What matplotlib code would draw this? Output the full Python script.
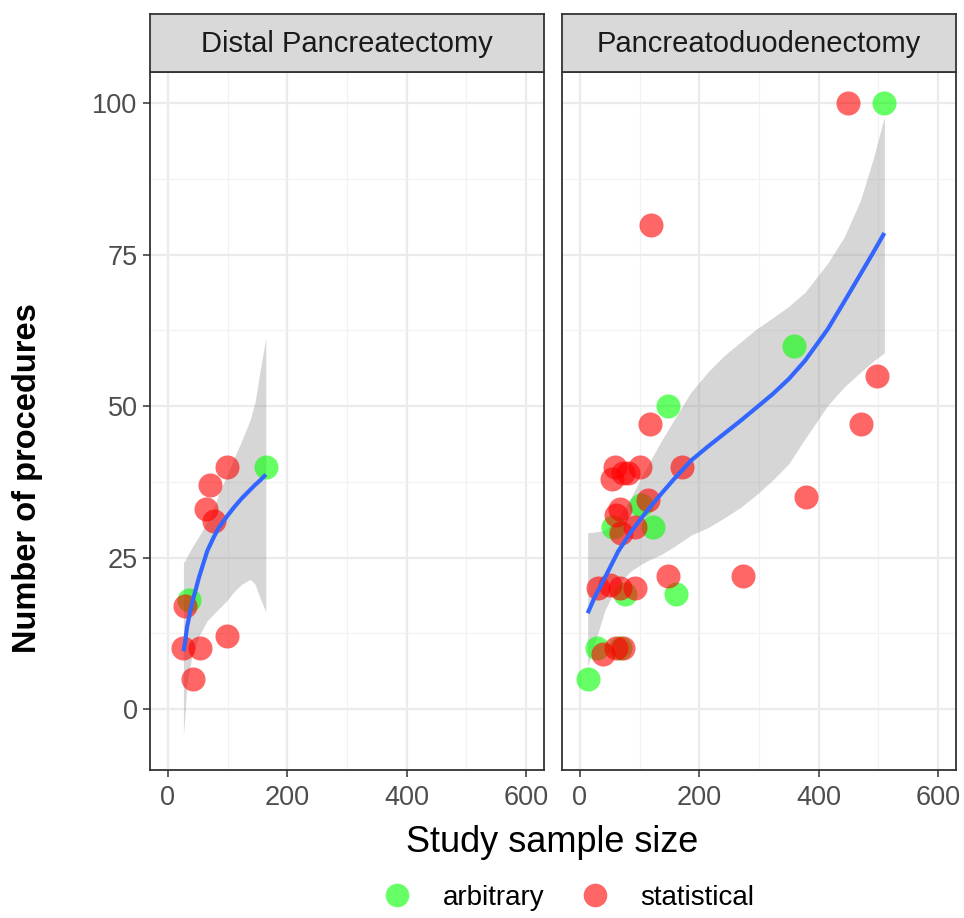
import numpy as np
import matplotlib.pyplot as plt
from matplotlib.lines import Line2D

plt.rcParams['font.family'] = ['Liberation Sans', 'DejaVu Sans']

# Distal Pancreatectomy
dp_arb_x = [164, 35]
dp_arb_y = [40, 18]
dp_stat_x = [99, 70, 63, 77, 29, 99, 26, 54, 42]
dp_stat_y = [40, 37, 33, 31, 17, 12, 10, 10, 5]
dp_smooth_x = [26, 29.5, 32, 40, 52, 66, 77, 85, 99, 110, 124, 138, 146, 154, 164]
dp_smooth_fit = [9.5, 11.5, 13.5, 17.3, 21.7, 26.1, 28.4, 29.9, 31.8, 33.2, 34.8, 36.2, 37, 37.7, 38.7]
dp_smooth_lo = [-4.5, 0.5, 4.2, 8.6, 12, 14.6, 15.7, 16.5, 17.9, 19.3, 20.6, 21.4, 20.6, 18.4, 16]
dp_smooth_hi = [24.2, 24.6, 25.2, 26.6, 28.5, 31, 33.2, 35.5, 38.6, 41.2, 44.4, 47.8, 50.7, 55.6, 61.3]

# Pancreatoduodenectomy
pd_arb_x = [510, 358, 148, 103, 56, 122, 75, 161, 28, 67, 13]
pd_arb_y = [100, 60, 50, 33.6, 30, 30, 19, 19, 10, 10, 5]
pd_stat_x = [449, 119, 498, 471, 118, 171, 58, 72, 100, 53, 81, 378, 114, 67, 61,
             69, 92, 31, 50, 67, 92, 148, 274, 39, 61, 72]
pd_stat_y = [100, 80, 55, 47, 47, 40, 40, 39, 40, 38, 39, 35, 34.5, 33, 32,
             29, 30, 20, 20.5, 20, 20, 22, 22, 9, 10, 10]
pd_smooth_x = [13, 25, 42, 64, 86, 103, 114, 136, 158, 186, 214, 241, 268, 295, 323,
               350, 377, 415, 443, 470, 492, 510]
pd_smooth_fit = [15.8, 18.5, 21.7, 26, 29.3, 31.5, 32.9, 35.5, 38, 41, 43.3, 45.4, 47.5, 49.7, 52,
                 54.5, 57.5, 62.7, 67.3, 71.8, 75.5, 78.6]
pd_smooth_lo = [7, 10.9, 16.3, 20.7, 22.8, 23.9, 24.5, 25.5, 26.8, 28.7, 29.9, 31.5, 33.2, 35.3, 37.8,
                40.5, 44.6, 50.1, 53.2, 55.6, 57.5, 58.8]
pd_smooth_hi = [29.1, 29.2, 29.5, 31.5, 35, 38.3, 40.3, 44.2, 47.8, 52.3, 55.6, 58.3, 60.5, 62.7, 64.6,
                66.5, 68.8, 73.6, 78, 84, 91.1, 97.8]

facets = ['Distal Pancreatectomy', 'Pancreatoduodenectomy']
x_ticks = [0, 200, 400, 600]
y_ticks = [0, 25, 50, 75, 100]

green = '#00FF00'
red = '#FF0000'
border = '#333333'

fig = plt.figure(figsize=(9.64, 9.18), dpi=100)

panels = [
    (dp_arb_x, dp_arb_y, dp_stat_x, dp_stat_y, dp_smooth_x, dp_smooth_fit, dp_smooth_lo, dp_smooth_hi),
    (pd_arb_x, pd_arb_y, pd_stat_x, pd_stat_y, pd_smooth_x, pd_smooth_fit, pd_smooth_lo, pd_smooth_hi),
]
lefts = [150 / 964, 562 / 964]
width = 394 / 964
bottom = 1 - 770 / 918
height = 698 / 918
strip_h = 58 / 918

for i, (ax_, ay_, sx_, sy_, mx, mfit, mlo, mhi) in enumerate(panels):
    ax = fig.add_axes([lefts[i], bottom, width, height])
    ax.set_xlim(-30, 630)
    ax.set_ylim(-10.1, 105.2)
    ax.set_xticks(x_ticks)
    ax.set_xticks([100, 300, 500], minor=True)
    ax.set_yticks(y_ticks)
    ax.set_yticks([12.5, 37.5, 62.5, 87.5], minor=True)
    ax.grid(which='major', color='#EBEBEB', linewidth=1.6)
    ax.grid(which='minor', color='#F2F2F2', linewidth=0.9)
    ax.set_axisbelow(True)
    for s in ax.spines.values():
        s.set_color(border)
        s.set_linewidth(1.3)
    ax.tick_params(which='major', length=5, width=1.1, color=border,
                   labelsize=19.5, labelcolor='#4D4D4D', pad=4)
    ax.tick_params(axis='x', which='major', pad=6)
    ax.tick_params(which='minor', length=0)
    if i == 1:
        ax.set_yticklabels([])
        ax.tick_params(axis='y', which='major', length=0)

    # loess band, points, fitted line
    ax.fill_between(mx, mlo, mhi, color='#999999', alpha=0.4, linewidth=0, zorder=2)
    ax.scatter(ax_, ay_, s=300, color=green, alpha=0.6, linewidths=0, zorder=3)
    ax.scatter(sx_, sy_, s=300, color=red, alpha=0.6, linewidths=0, zorder=3)
    ax.plot(mx, mfit, color='#3366FF', linewidth=3, zorder=4,
            solid_capstyle='butt', solid_joinstyle='round')

    strip = fig.add_axes([lefts[i], bottom + height, width, strip_h])
    strip.set_facecolor('#D9D9D9')
    strip.set_xticks([])
    strip.set_yticks([])
    for s in strip.spines.values():
        s.set_color(border)
        s.set_linewidth(1.3)
    strip.text(0.5, 0.48, facets[i], ha='center', va='center', fontsize=21, color='#1A1A1A')

fig.text(28 / 964, 1 - 478 / 918, 'Number of procedures', rotation=90, ha='center', va='center',
         fontsize=23.5, fontweight='bold')
fig.text(552 / 964, 1 - 843 / 918, 'Study sample size', ha='center', va='center', fontsize=26)

handles = [Line2D([], [], marker='o', linestyle='', markersize=17, color=green, alpha=0.6, markeredgewidth=0),
           Line2D([], [], marker='o', linestyle='', markersize=17, color=red, alpha=0.6, markeredgewidth=0)]
fig.legend(handles, ['arbitrary', 'statistical'], loc='center', bbox_to_anchor=(562 / 964, 1 - 898 / 918),
           ncol=2, frameon=False, fontsize=20, handlelength=2.0, handletextpad=0.65, columnspacing=0.8)

fig.savefig('out.png', dpi=100)
